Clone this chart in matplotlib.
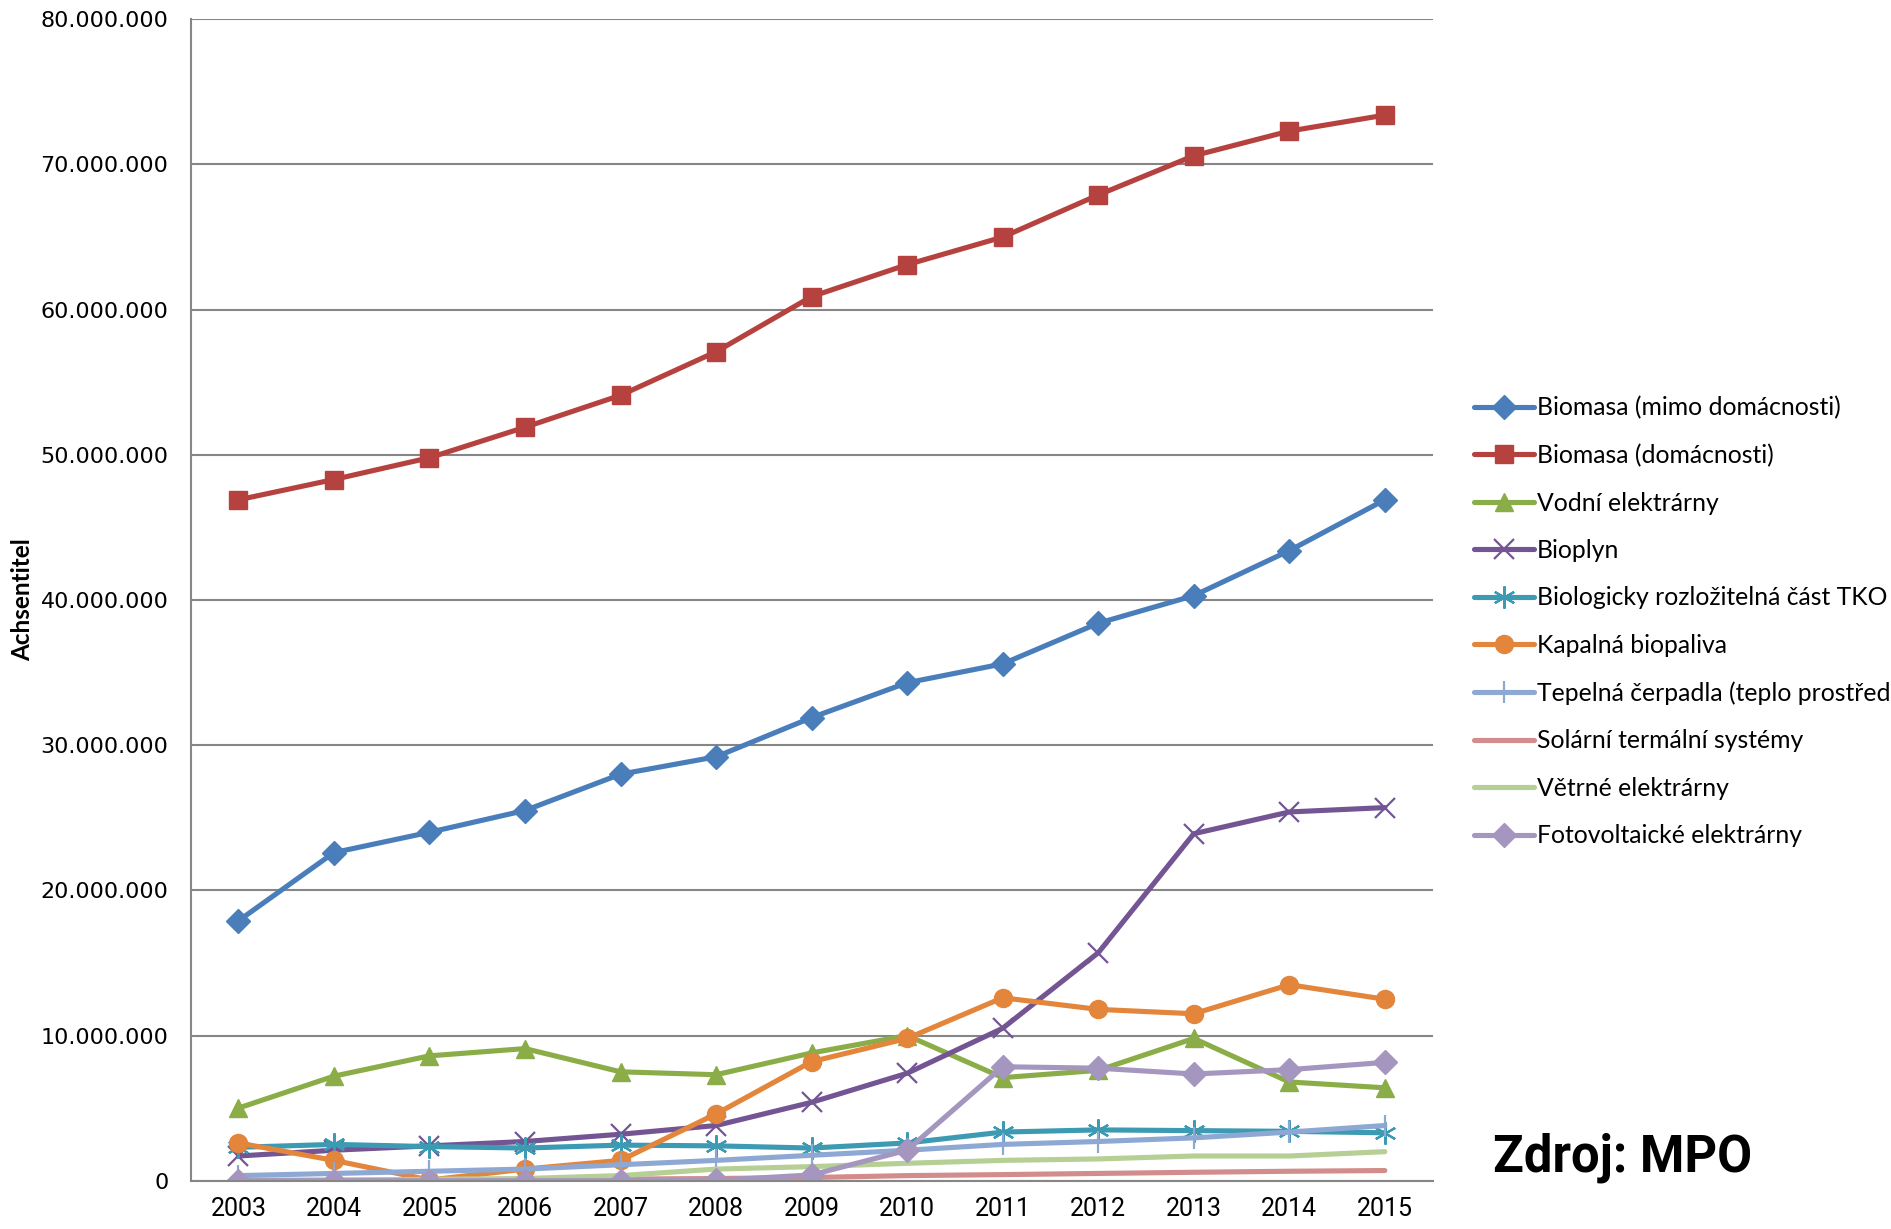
import matplotlib
matplotlib.use("Agg")
import matplotlib.pyplot as plt
from matplotlib.ticker import FuncFormatter

# Roky a hodnoty
roky = ["2003", "2004", "2005", "2006", "2007", "2008", "2009",
        "2010", "2011", "2012", "2013", "2014", "2015"]

biomasa_mimo = [17.9, 22.6, 24.0, 25.5, 28.0, 29.2, 31.9, 34.3, 35.6, 38.4, 40.3, 43.4, 46.9]
biomasa_dom = [46.9, 48.3, 49.8, 51.9, 54.1, 57.1, 60.9, 63.1, 65.0, 67.9, 70.6, 72.3, 73.4]
vodni = [5.0, 7.2, 8.6, 9.1, 7.5, 7.3, 8.8, 10.0, 7.1, 7.6, 9.8, 6.8, 6.4]
bioplyn = [1.7, 2.1, 2.4, 2.7, 3.2, 3.8, 5.4, 7.4, 10.5, 15.7, 23.9, 25.4, 25.7]
tko = [2.3, 2.5, 2.35, 2.25, 2.45, 2.4, 2.25, 2.6, 3.35, 3.5, 3.45, 3.4, 3.3]
biopaliva = [2.6, 1.4, 0.05, 0.8, 1.4, 4.6, 8.2, 9.8, 12.6, 11.8, 11.5, 13.5, 12.5]
cerpadla = [0.35, 0.5, 0.65, 0.8, 1.1, 1.4, 1.75, 2.1, 2.5, 2.7, 2.95, 3.35, 3.8]
solarni = [0.03, 0.04, 0.06, 0.08, 0.11, 0.15, 0.22, 0.35, 0.42, 0.5, 0.58, 0.65, 0.7]
vetrne = [0.0, 0.02, 0.1, 0.15, 0.35, 0.8, 0.97, 1.2, 1.4, 1.5, 1.7, 1.7, 2.0]
fotovolt = [0.0, 0.0, 0.0, 0.0, 0.0, 0.02, 0.4, 2.1, 7.85, 7.75, 7.35, 7.65, 8.15]

serie = [
    ("Biomasa (mimo domácnosti)", biomasa_mimo, "#4A7EBB", "D", 12),
    ("Biomasa (domácnosti)", biomasa_dom, "#B5423F", "s", 13),
    ("Vodní elektrárny", vodni, "#8BAD48", "^", 13),
    ("Bioplyn", bioplyn, "#735594", "x", 14),
    ("Biologicky rozložitelná část TKO", tko, "#3D9AB3", (6, 2, 0), 16),
    ("Kapalná biopaliva", biopaliva, "#E3853B", "o", 13),
    ("Tepelná čerpadla (teplo prostředí)", cerpadla, "#8EA8D4", "|", 16),
    ("Solární termální systémy", solarni, "#D38C8C", None, 0),
    ("Větrné elektrárny", vetrne, "#B5CF94", None, 0),
    ("Fotovoltaické elektrárny", fotovolt, "#A596C0", "D", 12),
]

fig = plt.figure(figsize=(18.91, 12.29), dpi=100)
ax = fig.add_axes([0.1008, 0.0393, 0.6568, 0.945])

x = list(range(len(roky)))
for nazev, hodnoty, barva, znacka, vel in serie:
    y = [v * 1e6 for v in hodnoty]
    mew = 1.6 if znacka in ("x", "|", (6, 2, 0)) else 1.0
    ax.plot(x, y, color=barva, linewidth=3.7, marker=znacka, markersize=vel,
            markerfacecolor=barva, markeredgecolor=barva, markeredgewidth=mew,
            label=nazev, solid_capstyle="round")

ax.set_xlim(-0.5, len(roky) - 0.5)
ax.set_ylim(0, 80e6)
ax.set_yticks([i * 10e6 for i in range(9)])
ax.yaxis.set_major_formatter(FuncFormatter(lambda v, p: "{:,.0f}".format(v).replace(",", ".")))
ax.set_xticks(x)
ax.set_xticklabels(roky, fontsize=18, family=["Roboto", "DejaVu Sans"])
ax.tick_params(axis="y", labelsize=16, length=0, pad=16)
ax.tick_params(axis="x", length=0, pad=12)

ax.grid(axis="y", color="#868686", linewidth=1.5)
ax.set_axisbelow(True)
for s in ["top", "right"]:
    ax.spines[s].set_visible(False)
ax.spines["left"].set_color("#868686")
ax.spines["bottom"].set_color("#868686")
ax.spines["left"].set_linewidth(1.5)
ax.spines["bottom"].set_linewidth(1.5)

fig.text(0.006, 0.512, "Achsentitel", rotation=90, fontsize=17.5, fontweight="bold",
         family=["Lato", "DejaVu Sans"], ha="left", va="center")

# legenda je v originalu vpravo oriznuta
ax.legend(loc="center left", bbox_to_anchor=(1.015, 0.4813), frameon=False,
          prop={"family": ["Lato", "DejaVu Sans"], "size": 17.8},
          handlelength=2.45, handletextpad=0.1, labelspacing=0.99)

fig.text(0.7895, 0.058, "Zdroj: MPO", fontsize=36.5, fontweight="bold",
         family=["Roboto", "DejaVu Sans"], ha="left", va="center")

fig.savefig("out.png", dpi=100)
